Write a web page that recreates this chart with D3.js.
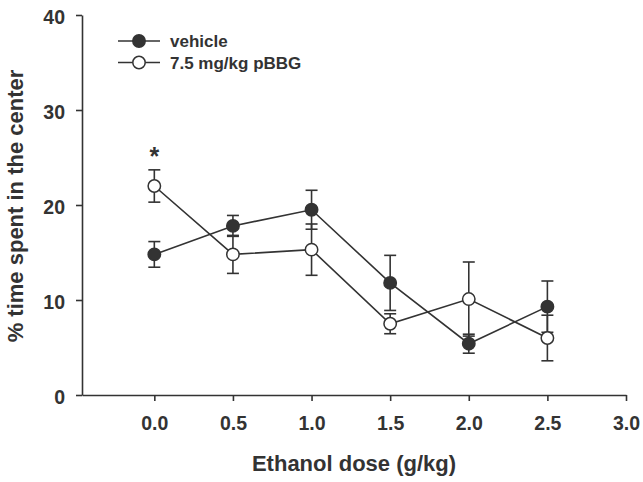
<!DOCTYPE html>
<html><head><meta charset="utf-8">
<script src="https://cdn.jsdelivr.net/npm/d3@7"></script>
<style>body{margin:0;background:#fff}svg{display:block}text{font-family:"Liberation Sans",Arial,sans-serif;font-weight:bold;fill:#333}</style>
</head><body>
<script>
const doses = [0.0, 0.5, 1.0, 1.5, 2.0, 2.5];
const vehicleMean = [14.8, 17.8, 19.5, 11.8, 5.4, 9.3];
const vehicleErr  = [1.35, 1.1, 2.05, 2.9, 1.0, 2.7];
const pbbgMean = [22.0, 14.8, 15.3, 7.5, 10.1, 6.0];
const pbbgErr  = [1.7, 2.0, 2.7, 1.05, 3.9, 2.4];
const seriesNames = ["vehicle", "7.5 mg/kg pBBG"];
const xTicks = [0.0, 0.5, 1.0, 1.5, 2.0, 2.5, 3.0];
const yTicks = [0, 10, 20, 30, 40];
const sigDoses = [0.0];

const W = 643, H = 482;
const svg = d3.select("body").append("svg").attr("width", W).attr("height", H);
const x = d3.scaleLinear().domain([-0.46, 3.0]).range([82, 626]);
const y = d3.scaleLinear().domain([0, 40]).range([395, 15]);
const ink = "#333";

const xAxis = svg.append("g").attr("transform", "translate(0,395)")
  .call(d3.axisBottom(x).tickValues(xTicks).tickFormat(d3.format(".1f")).tickSizeInner(6).tickSizeOuter(0).tickPadding(15));
const yAxis = svg.append("g").attr("transform", "translate(82,0)")
  .call(d3.axisLeft(y).tickValues(yTicks).tickSizeInner(6).tickSizeOuter(0).tickPadding(11));
[xAxis, yAxis].forEach(g => {
  g.select(".domain").attr("stroke", ink).attr("stroke-width", 1.6);
  g.selectAll(".tick line").attr("stroke", ink).attr("stroke-width", 1.6);
  g.selectAll(".tick text").attr("font-size", 19.5).attr("fill", ink)
    .attr("font-family", "Liberation Sans, Arial, sans-serif").attr("font-weight", "bold");
});
yAxis.selectAll(".tick text").attr("dy", "0.42em");

svg.append("text").attr("x", 354).attr("y", 471).attr("text-anchor", "middle")
  .attr("font-size", 22).text("Ethanol dose (g/kg)");
svg.append("text").attr("transform", "translate(23,206) rotate(-90)").attr("text-anchor", "middle")
  .attr("font-size", 22).text("% time spent in the center");

const series = [
  {name: seriesNames[0], mean: vehicleMean, err: vehicleErr, fill: ink},
  {name: seriesNames[1], mean: pbbgMean, err: pbbgErr, fill: "#fff"}
];
const line = d3.line().x((d, i) => x(doses[i])).y(d => y(d));

// error bars
series.forEach(s => {
  const g = svg.append("g").attr("stroke", ink).attr("stroke-width", 1.6);
  doses.forEach((d, i) => {
    const cx = x(d), t = y(s.mean[i] + s.err[i]), b = y(s.mean[i] - s.err[i]);
    g.append("line").attr("x1", cx).attr("x2", cx).attr("y1", t).attr("y2", b);
    g.append("line").attr("x1", cx - 6).attr("x2", cx + 6).attr("y1", t).attr("y2", t);
    g.append("line").attr("x1", cx - 6).attr("x2", cx + 6).attr("y1", b).attr("y2", b);
  });
});
// lines
series.forEach(s => {
  svg.append("path").attr("d", line(s.mean)).attr("fill", "none").attr("stroke", ink).attr("stroke-width", 1.6);
});
// markers
series.forEach(s => {
  svg.selectAll(null).data(s.mean).enter().append("circle")
    .attr("cx", (d, i) => x(doses[i])).attr("cy", d => y(d)).attr("r", 6.2)
    .attr("fill", s.fill).attr("stroke", ink).attr("stroke-width", 1.5);
});
// significance
sigDoses.forEach(d => {
  const i = doses.indexOf(d);
  svg.append("text").attr("x", x(d)).attr("y", y(pbbgMean[i] + pbbgErr[i]) - 5).attr("text-anchor", "middle")
    .attr("font-size", 25).text("*");
});
// legend
series.forEach((s, k) => {
  const ly = 41 + k * 21.5;
  svg.append("line").attr("x1", 118).attr("x2", 160).attr("y1", ly).attr("y2", ly).attr("stroke", ink).attr("stroke-width", 1.6);
  svg.append("circle").attr("cx", 139).attr("cy", ly).attr("r", 6.2).attr("fill", s.fill).attr("stroke", ink).attr("stroke-width", 1.5);
  svg.append("text").attr("x", 170).attr("y", ly + 6).attr("font-size", 17).text(s.name);
});
</script>
</body></html>
